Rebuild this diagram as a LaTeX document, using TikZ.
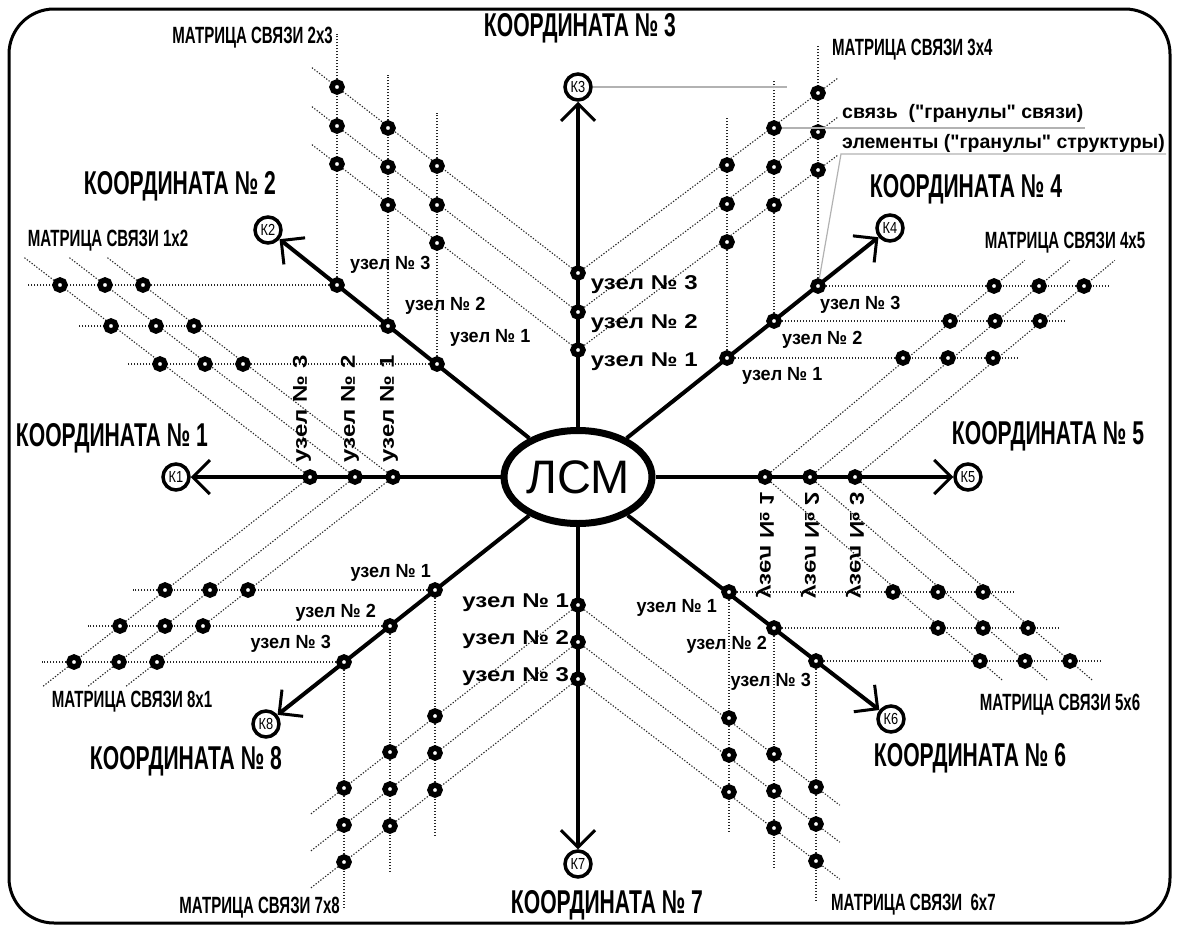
\documentclass[tikz,border=0pt]{standalone}
\usepackage{fontspec}
\setmainfont{Liberation Sans}
\newfontfamily\titlefont{Liberation Sans Bold}[FakeStretch=0.64]
\newfontfamily\widefont{Liberation Sans Bold}[FakeStretch=1.2]
\newfontfamily\diagfont{Liberation Sans Bold}[FakeStretch=0.95]
\newfontfamily\legendfont{Liberation Sans Bold}
\newfontfamily\kfont{Liberation Sans}[FakeStretch=0.8]
\usetikzlibrary{shapes.geometric,arrows.meta,positioning,calc,backgrounds}

\begin{document}
\begin{tikzpicture}[x=1pt, y=-1pt,
    border/.style={draw=black, line width=3pt, rounded corners=45pt},
    lsmnode/.style={ellipse, draw=black, line width=7pt, minimum width=148pt, minimum height=93pt, inner sep=0pt, font=\fontsize{47}{50}\selectfont},
    coord/.style={circle, draw=black, line width=3.5pt, fill=white, minimum size=26pt, inner sep=0pt, font=\kfont\fontsize{16}{16}\selectfont},
    uzel/.style={circle, draw=black, line width=5.5pt, fill=white, minimum size=10pt, inner sep=0pt},
    mainaxis/.style={line width=4pt, -{Straight Barb[length=17pt, width=34pt, line width=3pt]}},
    link/.style={dash pattern=on 1.3pt off 1.7pt, line width=1.1pt, black!85},
    leader/.style={line width=1.2pt, black!30},
    ktitle/.style={font=\titlefont\fontsize{33}{36}\selectfont, inner sep=0pt},
    matrixlabel/.style={font=\titlefont\fontsize{23.5}{25}\selectfont, inner sep=0pt},
    widelabel/.style={font=\widefont\fontsize{20}{22}\selectfont, inner sep=0pt},
    diaglabel/.style={font=\diagfont\fontsize{19}{21}\selectfont, inner sep=0pt},
    legendtext/.style={font=\legendfont\fontsize{19.5}{22}\selectfont, inner sep=1pt},
  ]
  \useasboundingbox (0,0) rectangle (1179,932);
  \draw [border] (9,9) rectangle (1170,923);
  % centre and coordinates
  \node [lsmnode] (lsm) at (578,477) {ЛСМ};
  \node [coord] (k1) at (176,477) {К1};
  \node [coord] (k2) at (268,230) {К2};
  \node [coord] (k3) at (578,87) {К3};
  \node [coord] (k4) at (890,228) {К4};
  \node [coord] (k5) at (968,477) {К5};
  \node [coord] (k6) at (891,719) {К6};
  \node [coord] (k7) at (578,864) {К7};
  \node [coord] (k8) at (266,724) {К8};
  \foreach \k in {1,...,8}
    \draw [mainaxis] (lsm) -- (k\k);
  \node [ktitle] (t1) at (112,438) {КООРДИНАТА № 1};
  \node [ktitle] (t2) at (180,186) {КООРДИНАТА № 2};
  \node [ktitle] (t3) at (580,28) {КООРДИНАТА № 3};
  \node [ktitle] (t4) at (966,189) {КООРДИНАТА № 4};
  \node [ktitle] (t5) at (1048,436) {КООРДИНАТА № 5};
  \node [ktitle] (t6) at (970,758) {КООРДИНАТА № 6};
  \node [ktitle] (t7) at (607,905) {КООРДИНАТА № 7};
  \node [ktitle] (t8) at (186,761) {КООРДИНАТА № 8};
  % nodes on the coordinates
  \foreach \n/\x/\y in {k1n1/393/477, k1n2/355/477, k1n3/310/477,
      k2n1/437/364, k2n2/388/326, k2n3/337/285,
      k3n1/578/350, k3n2/578/312, k3n3/578/273,
      k4n1/727/358, k4n2/774/321, k4n3/818/286,
      k5n1/765/477, k5n2/810/477, k5n3/855/477,
      k6n1/729/592, k6n2/774/628, k6n3/816/661,
      k7n1/578/605, k7n2/578/642, k7n3/578/679,
      k8n1/435/590, k8n2/390/626, k8n3/344/662}
    \node [uzel] (\n) at (\x,\y) {};
  % link matrices
  \foreach \ma/\mb/\ox/\oy in {k2/k1/587/477, k2/k3/578/471, k4/k3/578/466, k4/k5/589/477,
      k6/k5/601/477, k6/k7/578/479, k8/k7/578/479, k8/k1/580/477}
    \foreach \i in {1,2,3}
      \foreach \j in {1,2,3}
        \node [uzel] (\ma\mb-\i-\j) at ($(\ma n\i)+(\mb n\j)-(\ox,\oy)$) {};
  \begin{scope}[on background layer]
    \foreach \ma/\mb/\la/\lb in {k2/k1/32/45, k2/k3/53/33, k4/k3/47/25, k4/k5/26/40,
        k6/k5/32/30, k6/k7/40/30, k8/k7/45/42, k8/k1/32/40}
      \foreach \i in {1,2,3} {
        \draw [link] (\ma n\i) -- ($(\ma\mb-\i-3)!-\la pt!(\ma n\i)$);
        \draw [link] (\mb n\i) -- ($(\ma\mb-3-\i)!-\lb pt!(\mb n\i)$);
      }
  \end{scope}
  \node [matrixlabel] (m12) at (108,241) {МАТРИЦА СВЯЗИ 1x2};
  \node [matrixlabel, anchor=east] (m23) at (333,38) {МАТРИЦА СВЯЗИ 2x3};
  \node [matrixlabel, anchor=west] (m34) at (832,50) {МАТРИЦА СВЯЗИ 3x4};
  \node [matrixlabel] (m45) at (1065,243) {МАТРИЦА СВЯЗИ 4x5};
  \node [matrixlabel] (m56) at (1060,705) {МАТРИЦА СВЯЗИ 5x6};
  \node [matrixlabel, anchor=west] (m67) at (831,905) {МАТРИЦА СВЯЗИ\ \ 6x7};
  \node [matrixlabel, anchor=east] (m78) at (340,908) {МАТРИЦА СВЯЗИ 7x8};
  \node [matrixlabel] (m81) at (132,702) {МАТРИЦА СВЯЗИ 8x1};
  % node labels
  \node [widelabel, right=5pt of k3n1, yshift=-12pt] (l3a) {узел № 1};
  \node [widelabel, right=5pt of k3n2, yshift=-12pt] (l3b) {узел № 2};
  \node [widelabel, right=5pt of k3n3, yshift=-12pt] (l3c) {узел № 3};
  \node [widelabel, left=1pt of k7n1, yshift=2pt] (l7a) {узел № 1};
  \node [widelabel, left=1pt of k7n2, yshift=2pt] (l7b) {узел № 2};
  \node [widelabel, left=1pt of k7n3, yshift=2pt] (l7c) {узел № 3};
  \node [widelabel, rotate=90, anchor=west] (l1a) at ([xshift=-4pt, yshift=7pt]k1n1.north) {узел № 1};
  \node [widelabel, rotate=90, anchor=west] (l1b) at ([xshift=-5pt, yshift=7pt]k1n2.north) {узел № 2};
  \node [widelabel, rotate=90, anchor=west] (l1c) at ([xshift=-8pt, yshift=7pt]k1n3.north) {узел № 3};
  \node [widelabel, xscale=-1, rotate=90, anchor=east] (l5a) at ([yshift=-7pt]k5n1.south) {узел № 1};
  \node [widelabel, xscale=-1, rotate=90, anchor=east] (l5b) at ([yshift=-7pt]k5n2.south) {узел № 2};
  \node [widelabel, xscale=-1, rotate=90, anchor=east] (l5c) at ([yshift=-7pt]k5n3.south) {узел № 3};
  \node [diaglabel, anchor=west] (l2a) at ([xshift=13pt, yshift=26pt]k2n1) {узел № 1};
  \node [diaglabel, anchor=west] (l2b) at ([xshift=17pt, yshift=20pt]k2n2) {узел № 2};
  \node [diaglabel, anchor=west] (l2c) at ([xshift=13pt, yshift=20pt]k2n3) {узел № 3};
  \node [diaglabel, anchor=west] (l4a) at ([xshift=15pt, yshift=-18pt]k4n1) {узел № 1};
  \node [diaglabel, anchor=west] (l4b) at ([xshift=8pt, yshift=-19pt]k4n2) {узел № 2};
  \node [diaglabel, anchor=west] (l4c) at ([xshift=2pt, yshift=-19pt]k4n3) {узел № 3};
  \node [diaglabel, anchor=east] (l6a) at ([xshift=-12pt, yshift=-16pt]k6n1) {узел № 1};
  \node [diaglabel, anchor=east] (l6b) at ([xshift=-7pt, yshift=-17pt]k6n2) {узел № 2};
  \node [diaglabel, anchor=east] (l6c) at ([xshift=-5pt, yshift=-21pt]k6n3) {узел № 3};
  \node [diaglabel, anchor=east] (l8a) at ([xshift=-4pt, yshift=17pt]k8n1) {узел № 1};
  \node [diaglabel, anchor=east] (l8b) at ([xshift=-14pt, yshift=13pt]k8n2) {узел № 2};
  \node [diaglabel, anchor=east] (l8c) at ([xshift=-13pt, yshift=18pt]k8n3) {узел № 3};
  % legend
  \node [legendtext, anchor=south west] (svyaz) at (841,124) {связь\ \ ("гранулы" связи)};
  \node [legendtext, anchor=south west] (elem) at (841,154) {элементы ("гранулы" структуры)};
  \coordinate (k3end) at (787,87);
  \draw [leader] (k3) -- (k3end);
  \draw [leader] (k4k3-2-3) -- (k4k3-2-3 -| svyaz.east);
  \draw [leader] (k4n3) -- (elem.south west) -- (elem.south east);
\end{tikzpicture}
\end{document}
